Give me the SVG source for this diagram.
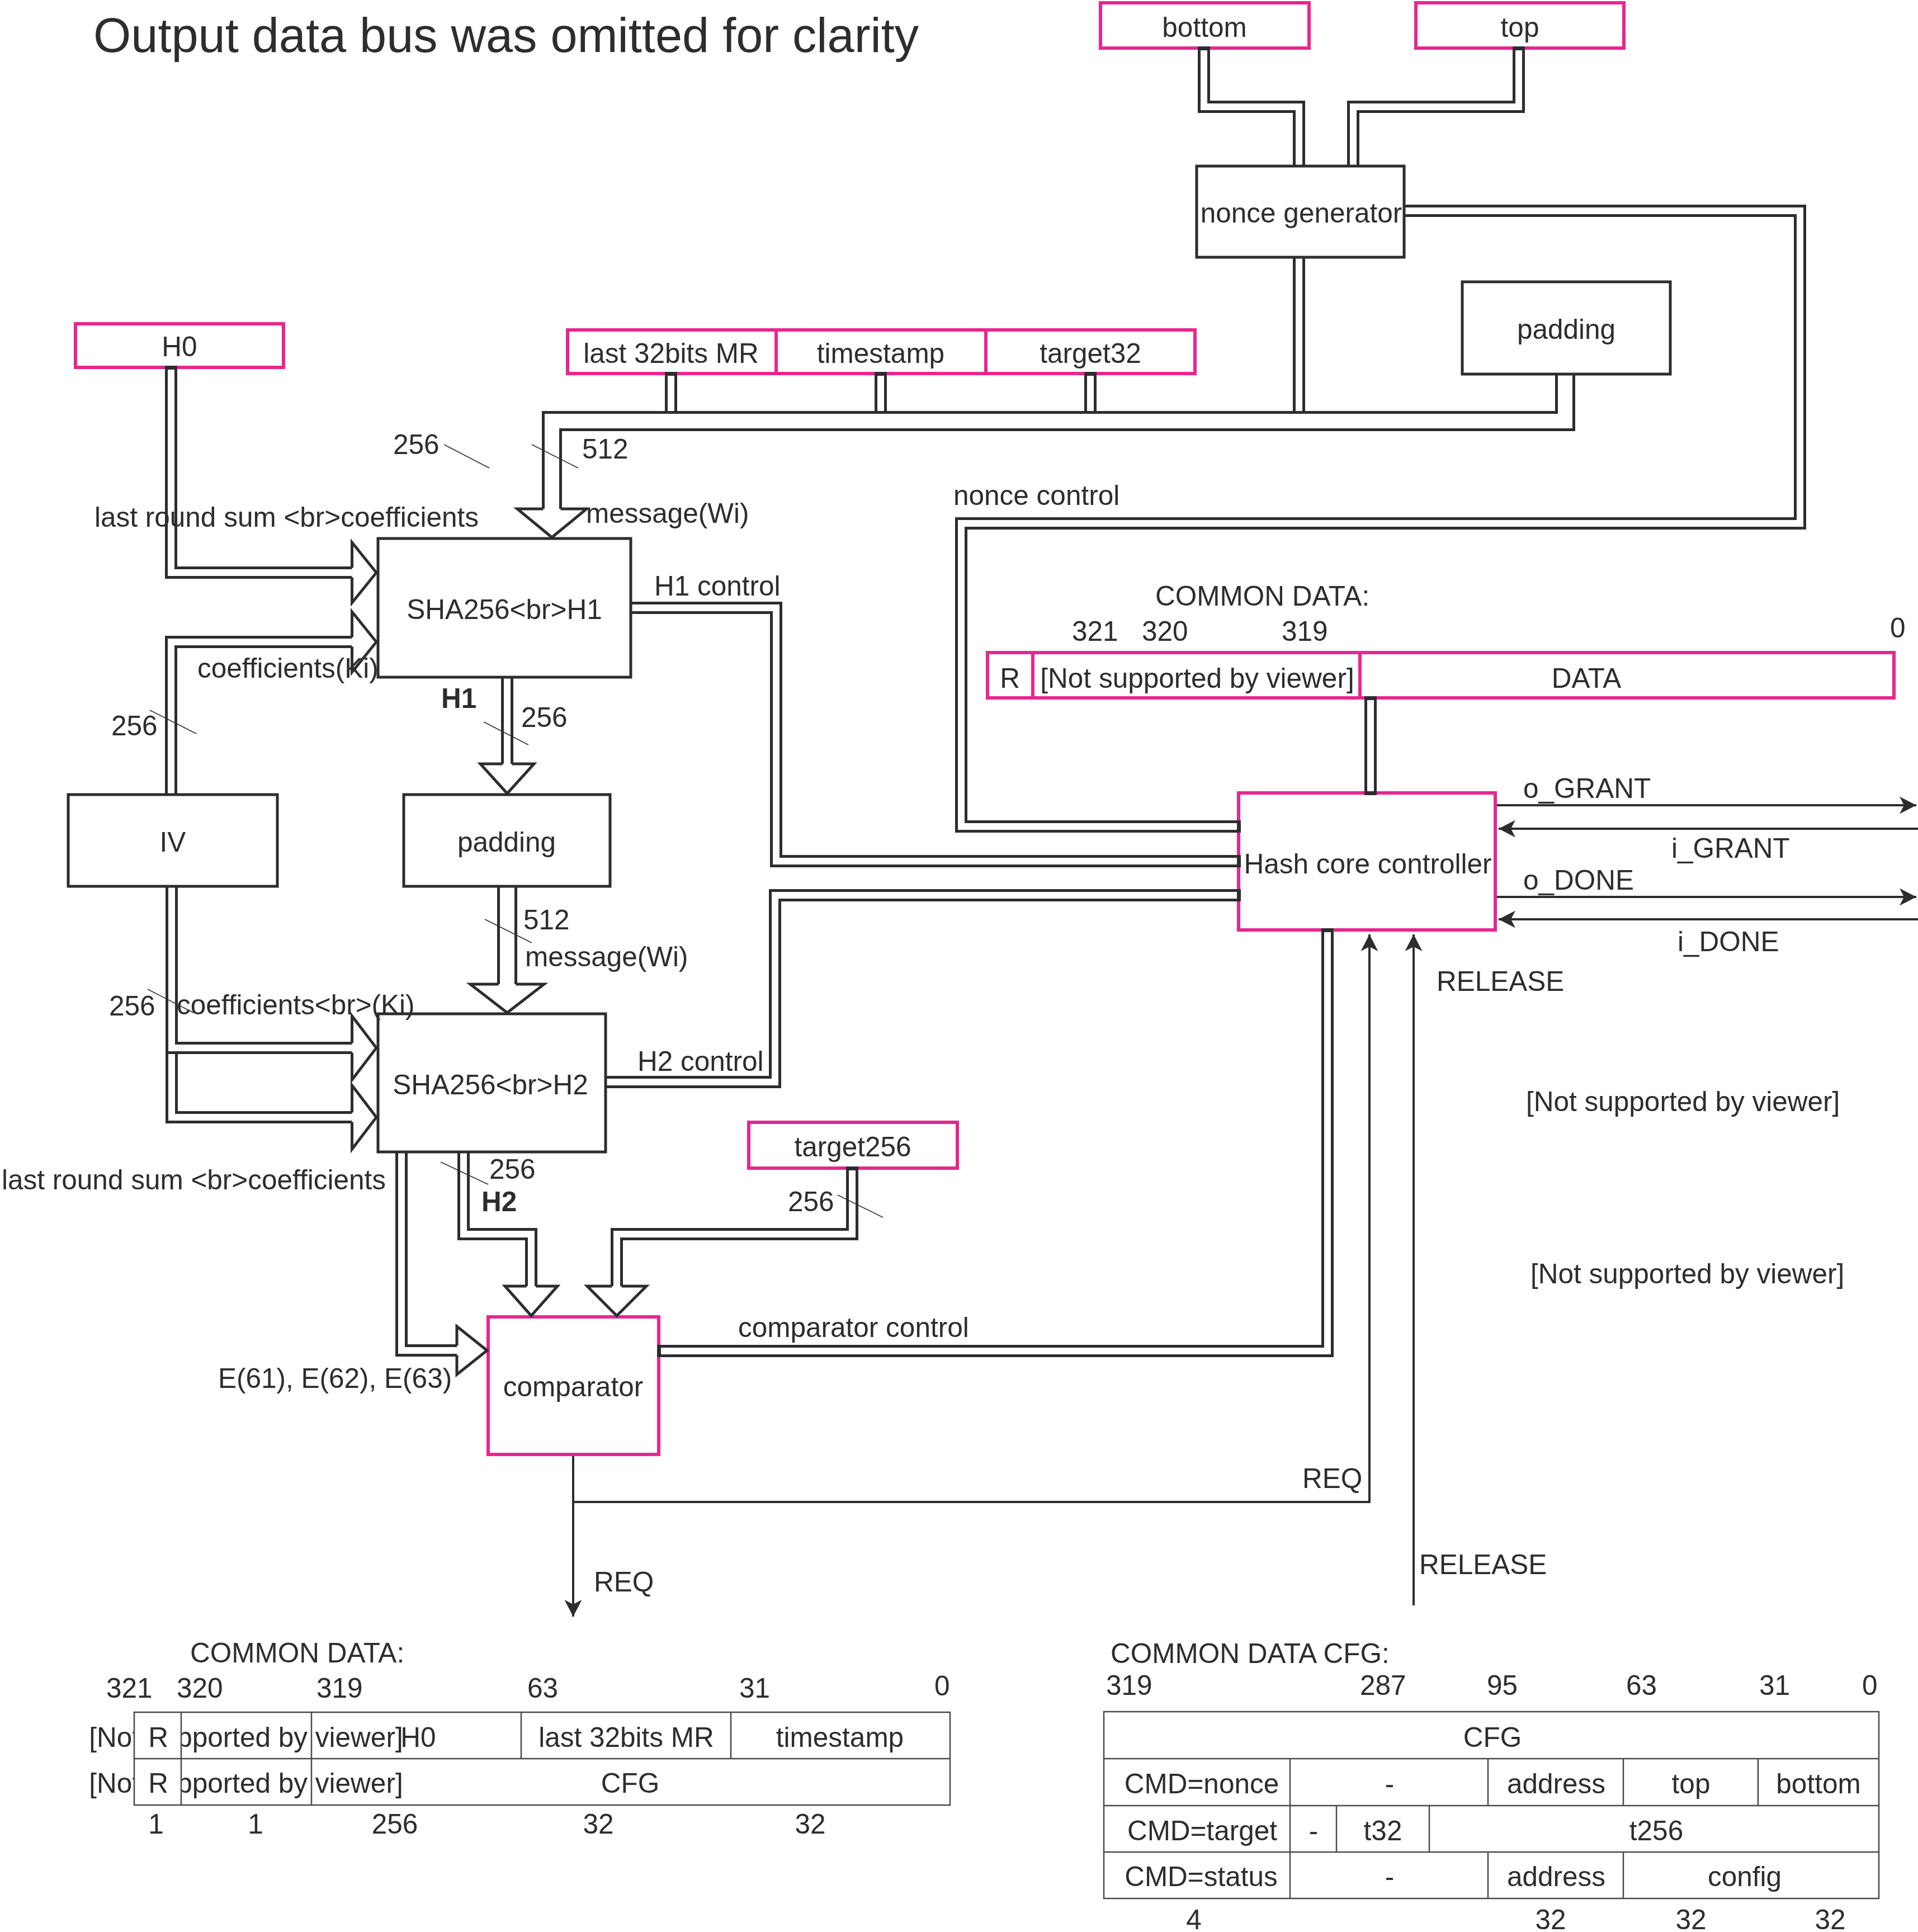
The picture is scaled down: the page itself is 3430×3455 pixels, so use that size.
<svg xmlns="http://www.w3.org/2000/svg" xmlns:xlink="http://www.w3.org/1999/xlink" width="3430" height="3455" viewBox="0 0 3430 3455">
<style>
.t{font-family:"Liberation Sans",Arial,sans-serif;font-size:49.5px;fill:#2d2c2f}
.c{text-anchor:middle}
.e{text-anchor:end}
.b{font-weight:bold}
.bx{fill:#fff;stroke:#2d2c2f;stroke-width:5}
.pk{fill:#fff;stroke:#e9268e;stroke-width:6}
.pkl{fill:none;stroke:#e9268e;stroke-width:6}
.po{fill:none;stroke:#2d2c2f;stroke-width:22;stroke-linejoin:miter;stroke-linecap:butt}
.pi{fill:none;stroke:#fff;stroke-width:12;stroke-linejoin:miter;stroke-linecap:butt}
.Po{fill:none;stroke:#2d2c2f;stroke-width:36;stroke-linejoin:miter}
.Pi{fill:none;stroke:#fff;stroke-width:26;stroke-linejoin:miter}
.hd{fill:#fff;stroke:#2d2c2f;stroke-width:5;stroke-linejoin:miter}
.ln{fill:none;stroke:#2d2c2f;stroke-width:4}
.mk{stroke:#2d2c2f;stroke-width:1.5}
.tb{fill:none;stroke:#4a4a4a;stroke-width:2.5}
.cap{fill:#2d2c2f}
</style>
<defs>
<marker id="ah" markerUnits="userSpaceOnUse" viewBox="0 0 32 32" refX="30" refY="16" markerWidth="32" markerHeight="32" orient="auto">
<path d="M30,16 L0,0.5 L8,16 L0,31.5 Z" fill="#2d2c2f"/>
</marker>
<path id="p1" d="M2153,86 V191 H2323 V297"/>
<path id="p2" d="M2716,86 V191 H2420 V297"/>
<path id="p3" d="M2323,460 V740"/>
<path id="p4" d="M1200,668 V740"/>
<path id="p5" d="M1575,668 V740"/>
<path id="p6" d="M1950,668 V740"/>
<path id="p7" d="M2511,377 H3219 V936 H1719 V1478 H2215"/>
<path id="p8" d="M306,657 V1024 H629.5"/>
<path id="p9" d="M306,1421 V1148 H629.5"/>
<path id="p10b" d="M307,1585 V1998 H629.5"/>
<path id="p10a" d="M307,1585 V1874 H629.5"/>
<path id="p11" d="M907,1211 V1366"/>
<path id="p12" d="M1128,1087 H1388 V1540 H2215"/>
<path id="p13" d="M1083,1935 H1386 V1601 H2215"/>
<path id="p14" d="M718,2060 V2415 H817"/>
<path id="p15" d="M829,2060 V2207 H950 V2300"/>
<path id="p16" d="M1524,2089 V2207 H1103 V2300"/>
<path id="p17" d="M1178,2416 H2374 V1663"/>
<path id="p18" d="M2451,1248 V1418"/>
<path id="P1" d="M2799,669 V753 H987 V910"/>
<path id="P2" d="M907,1585 V1760"/>
</defs>
<rect x="0" y="0" width="3430" height="3455" fill="#fff"/>

<text class="t" x="167" y="93" style="font-size:86.5px">Output data bus was omitted for clarity</text>

<g id="connectors">
<use href="#p1" class="po"/><use href="#p1" class="pi"/>
<use href="#p2" class="po"/><use href="#p2" class="pi"/>
<use href="#p3" class="po"/><use href="#p3" class="pi"/>
<use href="#p4" class="po"/><use href="#p4" class="pi"/>
<use href="#p5" class="po"/><use href="#p5" class="pi"/>
<use href="#p6" class="po"/><use href="#p6" class="pi"/>
<use href="#P1" class="Po"/><use href="#P1" class="Pi"/>
<use href="#p7" class="po"/><use href="#p7" class="pi"/>
<use href="#p8" class="po"/><use href="#p8" class="pi"/>
<use href="#p9" class="po"/><use href="#p9" class="pi"/>
<use href="#p10b" class="po"/><use href="#p10b" class="pi"/>
<use href="#p10a" class="po"/><use href="#p10a" class="pi"/>
<use href="#p11" class="po"/><use href="#p11" class="pi"/>
<use href="#P2" class="Po"/><use href="#P2" class="Pi"/>
<use href="#p12" class="po"/><use href="#p12" class="pi"/>
<use href="#p13" class="po"/><use href="#p13" class="pi"/>
<use href="#p14" class="po"/><use href="#p14" class="pi"/>
<use href="#p15" class="po"/><use href="#p15" class="pi"/>
<use href="#p16" class="po"/><use href="#p16" class="pi"/>
<use href="#p17" class="po"/><use href="#p17" class="pi"/>
<use href="#p18" class="po"/><use href="#p18" class="pi"/>
<path class="ln" d="M1025,2601 V2891" marker-end="url(#ah)"/>
<path class="ln" d="M1025,2686 H2449 V1671" marker-end="url(#ah)"/>
<path class="ln" d="M2528,2871 V1671" marker-end="url(#ah)"/>
<path class="ln" d="M2674,1440 H3427" marker-end="url(#ah)"/>
<path class="ln" d="M3430,1482 H2680" marker-end="url(#ah)"/>
<path class="ln" d="M2674,1604 H3427" marker-end="url(#ah)"/>
<path class="ln" d="M3430,1644 H2680" marker-end="url(#ah)"/>
<line class="mk" x1="794" y1="795" x2="875" y2="837"/>
<line class="mk" x1="951" y1="795" x2="1034" y2="837"/>
<line class="mk" x1="268" y1="1270" x2="351" y2="1312"/>
<line class="mk" x1="865" y1="1291" x2="945" y2="1332"/>
<line class="mk" x1="867" y1="1644" x2="951" y2="1686"/>
<line class="mk" x1="264" y1="1769" x2="346" y2="1811"/>
<line class="mk" x1="788" y1="2078" x2="873" y2="2118"/>
<line class="mk" x1="1498" y1="2137" x2="1579" y2="2177"/>
</g>

<g id="n-bottom"><rect class="pk" x="1968" y="5" width="373" height="81"/><text class="t c" x="2154" y="66">bottom</text></g>
<g id="n-top"><rect class="pk" x="2532" y="5" width="372" height="81"/><text class="t c" x="2718" y="66">top</text></g>
<g id="n-nonce"><rect class="bx" x="2140" y="297" width="371" height="163"/><text class="t c" x="2327" y="398">nonce generator</text></g>
<g id="n-padding-top"><rect class="bx" x="2615" y="504" width="372" height="165"/><text class="t c" x="2801" y="606">padding</text></g>
<g id="n-last32"><rect class="pk" x="1015" y="590" width="373" height="78"/><text class="t c" x="1200" y="649">last 32bits MR</text></g>
<g id="n-timestamp"><rect class="pk" x="1388" y="590" width="375" height="78"/><text class="t c" x="1575" y="649">timestamp</text></g>
<g id="n-target32"><rect class="pk" x="1763" y="590" width="374" height="78"/><text class="t c" x="1950" y="649">target32</text></g>
<g id="n-h0"><rect class="pk" x="135" y="579" width="372" height="78"/><text class="t c" x="321" y="637">H0</text></g>
<g id="n-h1"><rect class="bx" x="676" y="963" width="452" height="248"/><text class="t c" x="902" y="1107">SHA256&lt;br&gt;H1</text></g>
<g id="n-iv"><rect class="bx" x="122" y="1421" width="374" height="164"/><text class="t c" x="309" y="1523">IV</text></g>
<g id="n-padding"><rect class="bx" x="722" y="1421" width="369" height="164"/><text class="t c" x="906" y="1523">padding</text></g>
<g id="n-h2"><rect class="bx" x="676" y="1813" width="407" height="247"/><text class="t c" x="877" y="1957">SHA256&lt;br&gt;H2</text></g>
<g id="n-target256"><rect class="pk" x="1339" y="2007" width="373" height="82"/><text class="t c" x="1525" y="2068">target256</text></g>
<g id="n-comparator"><rect class="pk" x="873" y="2355" width="305" height="246"/><text class="t c" x="1025" y="2497">comparator</text></g>
<g id="n-controller"><rect class="pk" x="2215" y="1418" width="459" height="245"/><text class="t c" x="2446" y="1562">Hash core controller</text></g>
<g id="n-common-data">
<rect class="pk" x="1766" y="1167" width="1621" height="81"/>
<line class="pkl" x1="1847" y1="1167" x2="1847" y2="1248"/>
<line class="pkl" x1="2432" y1="1167" x2="2432" y2="1248"/>
<text class="t c" x="1806" y="1230">R</text>
<text class="t c" x="2141" y="1230">[Not supported by viewer]</text>
<text class="t c" x="2837" y="1230">DATA</text>
<text class="t" x="2066" y="1083">COMMON DATA:</text>
<text class="t" x="1917" y="1146">321</text>
<text class="t" x="2042" y="1146">320</text>
<text class="t" x="2292" y="1146">319</text>
<text class="t" x="3380" y="1140">0</text>
</g>

<g id="caps">
<rect class="cap" x="295" y="654" width="22" height="7"/>
<rect class="cap" x="2142" y="83" width="22" height="7"/>
<rect class="cap" x="2705" y="83" width="22" height="7"/>
<rect class="cap" x="1189" y="665" width="22" height="7"/>
<rect class="cap" x="1564" y="665" width="22" height="7"/>
<rect class="cap" x="1939" y="665" width="22" height="7"/>
<rect class="cap" x="2440" y="1245" width="22" height="7"/>
<rect class="cap" x="2440" y="1415" width="22" height="7"/>
<rect class="cap" x="2363" y="1660" width="22" height="7"/>
<rect class="cap" x="1513" y="2086" width="22" height="7"/>
<rect class="cap" x="2212" y="1467" width="7" height="22"/>
<rect class="cap" x="2212" y="1529" width="7" height="22"/>
<rect class="cap" x="2212" y="1590" width="7" height="22"/>
<rect class="cap" x="1175" y="2405" width="7" height="22"/>
</g>

<g id="heads">
<path class="hd" d="M629.5,1015.5 V970 L673,1024 L629.5,1078 V1032.5"/>
<path class="hd" d="M629.5,1139.5 V1094 L673,1148 L629.5,1202 V1156.5"/>
<path class="hd" d="M629.5,1989.5 V1941 L673,1998 L629.5,2055 V2006.5"/>
<path class="hd" d="M629.5,1865.5 V1817 L673,1874 L629.5,1931 V1882.5"/>
<path class="hd" d="M898.5,1366 H859 L907,1419 L955,1366 H915.5"/>
<path class="hd" d="M817,2406.5 V2372 L871,2415 L817,2458 V2423.5"/>
<path class="hd" d="M941.5,2300 H903 L950,2353 L997,2300 H958.5"/>
<path class="hd" d="M1094.5,2300 H1050 L1103,2353 L1156,2300 H1111.5"/>
<path class="hd" d="M971.5,910 H925 L987,961 L1049,910 H1002.5"/>
<path class="hd" d="M891.5,1760 H841 L907,1811 L973,1760 H922.5"/>
</g>

<g id="labels">
<text class="t" x="703" y="812">256</text>
<text class="t" x="1041" y="820">512</text>
<text class="t" x="1048" y="935">message(Wi)</text>
<text class="t" x="169" y="942">last round sum &lt;br&gt;coefficients</text>
<text class="t" x="1170" y="1065">H1 control</text>
<text class="t" x="353" y="1212">coefficients(Ki)</text>
<text class="t" x="199" y="1315">256</text>
<text class="t b" x="789" y="1266">H1</text>
<text class="t" x="932" y="1300">256</text>
<text class="t" x="936" y="1662">512</text>
<text class="t" x="939" y="1728">message(Wi)</text>
<text class="t" x="195" y="1816">256</text>
<text class="t" x="316" y="1814">coefficients&lt;br&gt;(Ki)</text>
<text class="t" x="1140" y="1915">H2 control</text>
<text class="t e" x="690" y="2127">last round sum &lt;br&gt;coefficients</text>
<text class="t" x="875" y="2108">256</text>
<text class="t b" x="861" y="2166">H2</text>
<text class="t" x="1409" y="2166">256</text>
<text class="t" x="390" y="2482">E(61), E(62), E(63)</text>
<text class="t" x="1320" y="2391">comparator control</text>
<text class="t" x="2329" y="2661">REQ</text>
<text class="t" x="1062" y="2846">REQ</text>
<text class="t" x="2569" y="1772">RELEASE</text>
<text class="t" x="2538" y="2815">RELEASE</text>
<text class="t" x="1705" y="903">nonce control</text>
<text class="t" x="2724" y="1427">o_GRANT</text>
<text class="t" x="2989" y="1534">i_GRANT</text>
<text class="t" x="2724" y="1591">o_DONE</text>
<text class="t" x="3000" y="1701">i_DONE</text>
<text class="t" x="2729" y="1987">[Not supported by viewer]</text>
<text class="t" x="2737" y="2295">[Not supported by viewer]</text>
</g>

<g id="table-common-data">
<text class="t" x="340" y="2973">COMMON DATA:</text>
<text class="t" x="190" y="3036">321</text>
<text class="t" x="316" y="3036">320</text>
<text class="t" x="566" y="3036">319</text>
<text class="t" x="943" y="3036">63</text>
<text class="t" x="1322" y="3036">31</text>
<text class="t" x="1671" y="3032">0</text>
<text class="t c" x="440" y="3124">[Not supported by viewer]</text>
<text class="t c" x="440" y="3206">[Not supported by viewer]</text>
<rect x="240" y="3062" width="84" height="166" fill="#fff"/>
<rect class="tb" x="240" y="3062" width="1459" height="166"/>
<line class="tb" x1="240" y1="3145" x2="1699" y2="3145"/>
<line class="tb" x1="324" y1="3062" x2="324" y2="3228"/>
<line class="tb" x1="557" y1="3062" x2="557" y2="3228"/>
<line class="tb" x1="932" y1="3062" x2="932" y2="3145"/>
<line class="tb" x1="1307" y1="3062" x2="1307" y2="3145"/>
<text class="t c" x="283" y="3124">R</text>
<text class="t c" x="283" y="3206">R</text>
<text class="t c" x="748" y="3124">H0</text>
<text class="t c" x="1120" y="3124">last 32bits MR</text>
<text class="t c" x="1502" y="3124">timestamp</text>
<text class="t c" x="1127" y="3206">CFG</text>
<text class="t c" x="279" y="3279">1</text>
<text class="t c" x="457" y="3279">1</text>
<text class="t c" x="706" y="3279">256</text>
<text class="t c" x="1070" y="3279">32</text>
<text class="t c" x="1449" y="3279">32</text>
</g>

<g id="table-common-data-cfg">
<text class="t" x="1986" y="2974">COMMON DATA CFG:</text>
<text class="t" x="1978" y="3031">319</text>
<text class="t" x="2432" y="3031">287</text>
<text class="t" x="2659" y="3031">95</text>
<text class="t" x="2908" y="3031">63</text>
<text class="t" x="3146" y="3031">31</text>
<text class="t" x="3330" y="3031">0</text>
<rect class="tb" x="1974" y="3061" width="1386" height="334"/>
<line class="tb" x1="1974" y1="3145" x2="3360" y2="3145"/>
<line class="tb" x1="1974" y1="3229" x2="3360" y2="3229"/>
<line class="tb" x1="1974" y1="3312" x2="3360" y2="3312"/>
<line class="tb" x1="2307" y1="3145" x2="2307" y2="3395"/>
<line class="tb" x1="2661" y1="3145" x2="2661" y2="3229"/>
<line class="tb" x1="2903" y1="3145" x2="2903" y2="3229"/>
<line class="tb" x1="3144" y1="3145" x2="3144" y2="3229"/>
<line class="tb" x1="2390" y1="3229" x2="2390" y2="3312"/>
<line class="tb" x1="2556" y1="3229" x2="2556" y2="3312"/>
<line class="tb" x1="2661" y1="3312" x2="2661" y2="3395"/>
<line class="tb" x1="2903" y1="3312" x2="2903" y2="3395"/>
<text class="t c" x="2669" y="3124">CFG</text>
<text class="t c" x="2149" y="3207">CMD=nonce</text>
<text class="t c" x="2485" y="3207">-</text>
<text class="t c" x="2783" y="3207">address</text>
<text class="t c" x="3024" y="3207">top</text>
<text class="t c" x="3252" y="3207">bottom</text>
<text class="t c" x="2150" y="3291">CMD=target</text>
<text class="t c" x="2349" y="3291">-</text>
<text class="t c" x="2473" y="3291">t32</text>
<text class="t c" x="2962" y="3291">t256</text>
<text class="t c" x="2148" y="3373">CMD=status</text>
<text class="t c" x="2485" y="3373">-</text>
<text class="t c" x="2783" y="3373">address</text>
<text class="t c" x="3120" y="3373">config</text>
<text class="t c" x="2135" y="3450">4</text>
<text class="t c" x="2773" y="3450">32</text>
<text class="t c" x="3024" y="3450">32</text>
<text class="t c" x="3273" y="3450">32</text>
</g>
</svg>
